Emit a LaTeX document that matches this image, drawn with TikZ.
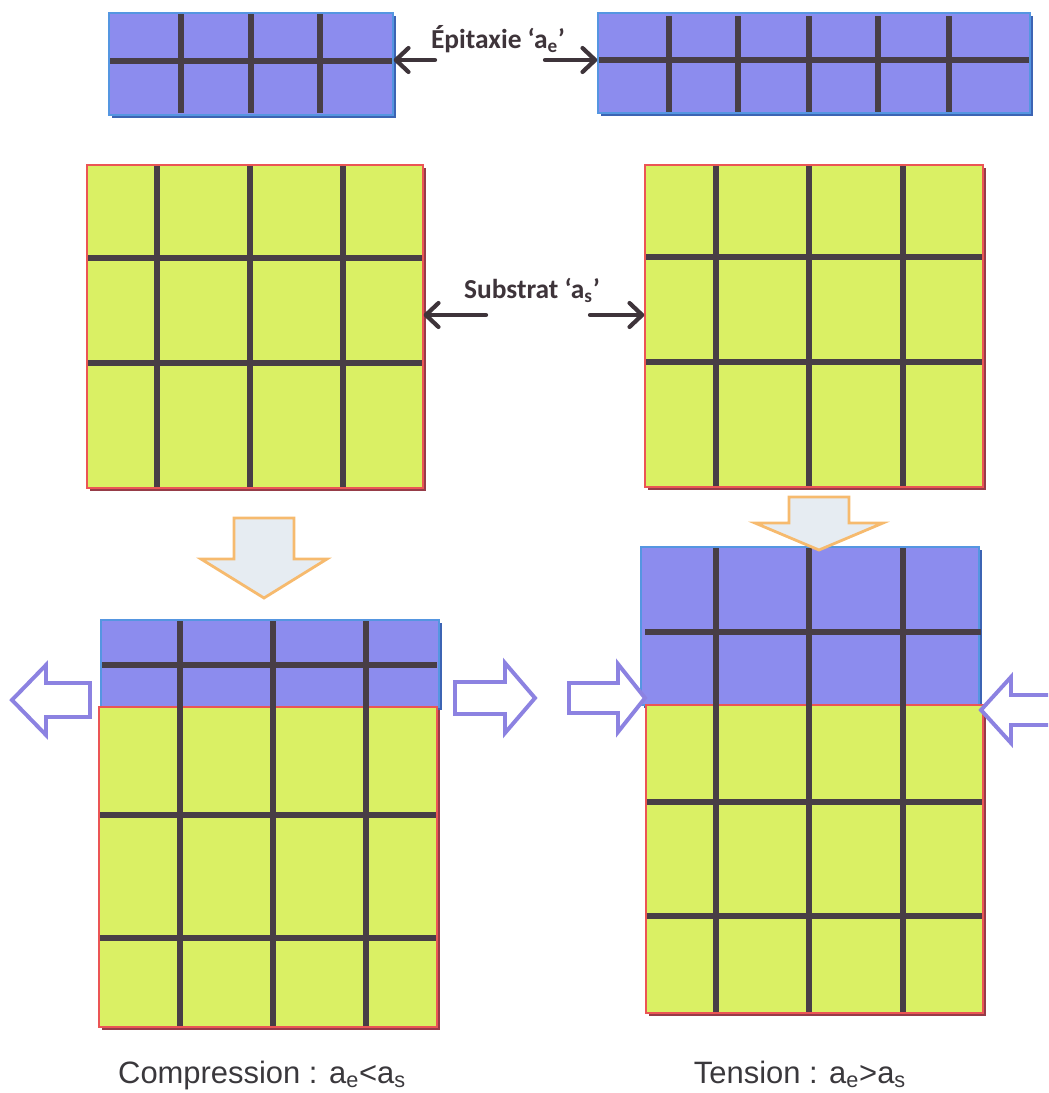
\documentclass[tikz,border=0pt]{standalone}
\usepackage{fontspec}
\setmainfont{Liberation Sans}
\newfontfamily\calibfont{Carlito}
\usepackage{tikz}
\usetikzlibrary{arrows.meta,fit,shadows}

\definecolor{epifill}{RGB}{140,140,238}
\definecolor{epiedge}{RGB}{85,150,225}
\definecolor{epishade}{RGB}{60,100,180}
\definecolor{subfill}{RGB}{218,240,100}
\definecolor{subedge}{RGB}{235,85,85}
\definecolor{subshade}{RGB}{150,60,72}
\definecolor{bondcol}{RGB}{72,62,70}
\definecolor{lblcol}{RGB}{62,52,58}
\definecolor{capcol}{RGB}{58,56,60}
\definecolor{violetedge}{RGB}{140,130,225}
\definecolor{orangeedge}{RGB}{246,186,110}
\definecolor{downfill}{RGB}{230,236,242}

% block arrow, tip at the origin, pointing along +x
% #1 length, #2 head length, #3 head half width, #4 shaft half width
\tikzset{
  pics/fatarrow/.style n args={4}{code={
    \path[pic actions] (0,0) -- (-#2,-#3) -- (-#2,-#4) -- (-#1,-#4)
      -- (-#1,#4) -- (-#2,#4) -- (-#2,#3) -- cycle;
  }}
}

\begin{document}
\begin{tikzpicture}[
    x=0.025cm, y=-0.025cm,
    epibox/.style={draw=epiedge, fill=epifill, line width=1pt, inner sep=0pt,
                drop shadow={shadow xshift=0.07cm, shadow yshift=-0.07cm,
                fill=epishade, opacity=1}},
    subbox/.style={draw=subedge, fill=subfill, line width=1pt, inner sep=0pt,
                drop shadow={shadow xshift=0.07cm, shadow yshift=-0.07cm,
                fill=subshade, opacity=1}},
    bond/.style={draw=bondcol, line width=4.2pt},
    lbl/.style={font=\calibfont\bfseries\fontsize{19.5pt}{22pt}\selectfont,
                text=lblcol, anchor=base, inner sep=0pt},
    captxt/.style={font=\fontsize{22pt}{26pt}\selectfont, text=capcol,
                anchor=base, inner sep=0pt},
    lblarr/.style={draw=lblcol, line width=3pt, line cap=round,
                -{Straight Barb[length=9pt,width=17pt,round]}},
    hollow/.style={draw=violetedge, fill=white, line width=2.8pt},
    downarr/.style={draw=orangeedge, fill=downfill, line width=2pt}
]
\useasboundingbox (0,0) rectangle (1048,1093);
\clip (0,0) rectangle (1048,1093);

% --- Epitaxial layers (top) ---
\node[epibox, fit={(109,13) (393,115)}] (epiL) {};
\foreach \x in {181,251,320} \draw[bond] (\x,14) -- (\x,113);
\draw[bond] (110,61) -- (392,61);

\node[epibox, fit={(598,13) (1030,113)}] (epiR) {};
\foreach \x in {669,738,809,878,949} \draw[bond] (\x,16) -- (\x,112);
\draw[bond] (599,60) -- (1029,60);

\node[lbl] (epilbl) at (498,48) {Épitaxie ‘a\textsubscript{e}’};
\coordinate (epitailL) at (435,60);
\coordinate (epitailR) at (545,60);
\draw[lblarr] (epitailL) -- (epitailL -| epiL.east);
\draw[lblarr] (epitailR) -- (epitailR -| epiR.west);

% --- Substrates ---
\node[subbox, fit={(87,165) (423,488)}] (subL) {};
\foreach \x in {157,250,343} \draw[bond] (\x,166) -- (\x,487);
\foreach \y in {258,363} \draw[bond] (88,\y) -- (422,\y);

\node[subbox, fit={(645,165) (983,487)}] (subR) {};
\foreach \x in {716,809,903} \draw[bond] (\x,166) -- (\x,486);
\foreach \y in {257,362} \draw[bond] (646,\y) -- (982,\y);

\node[lbl] (sublbl) at (532,298) {Substrat ‘a\textsubscript{s}’};
\coordinate (subtailL) at (486,315);
\coordinate (subtailR) at (590,315);
\draw[lblarr] (subtailL) -- (subtailL -| subL.east);
\draw[lblarr] (subtailR) -- (subtailR -| subR.west);

% --- Compression (bottom left) ---
\pic[downarr, rotate=-90] at (264,598) {fatarrow={80}{39}{63}{30}};
\node[epibox, fit={(101,620) (439,707)}] (epiC) {};
\node[subbox, fit={(99,707) (437,1027)}] (subC) {};
\foreach \x in {180,273,366} \draw[bond] (\x,621) -- (\x,1026);
\draw[bond] (102,665) -- (437,665);
\foreach \y in {815,938} \draw[bond] (100,\y) -- (436,\y);
\pic[hollow, rotate=180] at (12,700) {fatarrow={78}{34}{35}{17}};
\pic[hollow] at (535,698) {fatarrow={80}{30}{35}{16}};
\node[captxt] (capC) at (262,1083) {Compression : a\textsubscript{e}<a\textsubscript{s}};

% --- Tension (bottom right) ---
\node[epibox, fit={(641,547) (979,705)}] (epiT) {};
\node[subbox, fit={(646,705) (983,1013)}] (subT) {};
\foreach \x in {716,809,903} \draw[bond] (\x,548) -- (\x,1012);
\draw[bond] (645,632) -- (981,632);
\foreach \y in {802,916} \draw[bond] (647,\y) -- (982,\y);
\pic[downarr, rotate=-90] at (819,550) {fatarrow={53}{27}{64}{30}};
\pic[hollow] at (645,698) {fatarrow={76}{27}{34}{15}};
\pic[hollow, rotate=180] at (981,710) {fatarrow={85}{30}{33}{15}};
\node[captxt] (capT) at (800,1083) {Tension : a\textsubscript{e}>a\textsubscript{s}};

\end{tikzpicture}
\end{document}
